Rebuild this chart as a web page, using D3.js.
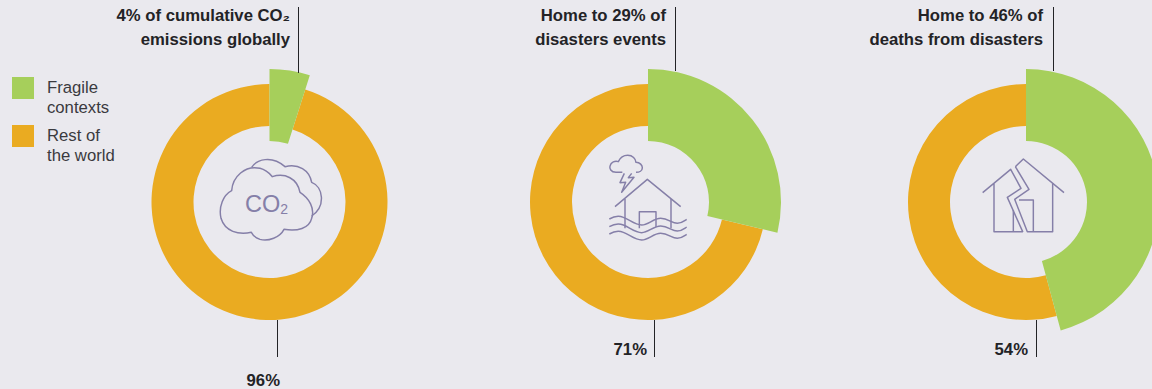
<!DOCTYPE html>
<html><head><meta charset="utf-8">
<script src="https://cdn.jsdelivr.net/npm/d3@7/dist/d3.min.js"></script>
<style>html,body{margin:0;padding:0;background:#EAE9EE;overflow:hidden}svg{display:block}text{font-family:"Liberation Sans",Arial,sans-serif}</style>
</head><body><svg id="c" width="1152" height="389"></svg>
<script>
const categories = ["Fragile contexts", "Rest of the world"];
const fragileDrawn = [4.9, 28.7, 45.8];
const restDrawn = [95.1, 71.3, 54.2];
const topLabels = [["4% of cumulative CO₂", "emissions globally"], ["Home to 29% of", "disasters events"], ["Home to 46% of", "deaths from disasters"]];
const bottomLabels = ["96%", "71%", "54%"];
const centers = [269.5, 648, 1026];
const topLeaderX = [298.5, 675.5, 1053.5];
const bottomLeaderX = [277.5, 654.5, 1036.5];
const colors = ["#A6CF5B", "#EAAB21"];
const ink = "#232326", iconInk = "#857FA8";

const svg = d3.select("#c");
const pie = d3.pie().sort(null).value(d => d);
const arcGreen = d3.arc().innerRadius(61).outerRadius(133);
const arcOrange = d3.arc().innerRadius(76).outerRadius(118);
const color = d3.scaleOrdinal(categories, colors);
const bottomEnd = [280, 647, 1028];

centers.forEach((cx, i) => {
  const g = svg.append("g").attr("transform", `translate(${cx},202)`);
  const slices = pie([fragileDrawn[i], restDrawn[i]]);
  g.append("path").attr("d", arcOrange(slices[1])).attr("fill", color(categories[1]));
  g.append("path").attr("d", arcGreen(slices[0])).attr("fill", color(categories[0]));
  svg.append("line").attr("x1", topLeaderX[i]).attr("x2", topLeaderX[i]).attr("y1", 7)
    .attr("y2", i === 0 ? 73 : 71).attr("stroke", ink).attr("stroke-width", 1);
  svg.append("line").attr("x1", bottomLeaderX[i]).attr("x2", bottomLeaderX[i]).attr("y1", 320).attr("y2", 357)
    .attr("stroke", ink).attr("stroke-width", 1);
  topLabels[i].forEach((t, k) => svg.append("text").attr("x", [290, 666, 1043][i]).attr("y", 21 + k * 24)
    .attr("text-anchor", "end").attr("font-size", 16.7).attr("font-weight", 700).attr("fill", ink).text(t));
  svg.append("text").attr("x", bottomEnd[i]).attr("y", i === 0 ? 386 : 355)
    .attr("text-anchor", "end").attr("font-size", 16.7).attr("font-weight", 700).attr("fill", ink)
    .text(bottomLabels[i]);
});

// legend
const legendLines = [["Fragile", "contexts"], ["Rest of", "the world"]];
categories.forEach((c, i) => {
  const y = 77 + i * 48;
  svg.append("rect").attr("x", 12).attr("y", y).attr("width", 22).attr("height", 22).attr("fill", color(c));
  legendLines[i].forEach((t, k) => svg.append("text").attr("x", 47).attr("y", y + 16 + k * 20)
    .attr("font-size", 16.7).attr("fill", "#3A3A3E").text(t));
});

// icons (decorative, drawn in zoomed 3x local units)
function icon(x, y, paths) {
  const g = svg.append("g").attr("transform", `translate(${x},${y}) scale(${1/3})`)
    .attr("fill", "none").attr("stroke", iconInk).attr("stroke-width", 4.4).attr("stroke-linejoin", "round");
  paths.forEach(p => g.append("path").attr("d", p));
  return g;
}
icon(210, 150, [
  "M65,122 C68,80 105,45 150,55 C170,60 180,72 187,80 C225,68 262,85 270,127 C298,145 315,175 305,205 C298,235 262,245 222,238 C210,262 175,275 150,268 C135,263 128,255 124,247 C85,255 45,245 33,205 C25,170 40,135 65,122 Z",
  "M125,52 C140,28 185,15 225,50 C265,40 298,60 305,97 C340,110 348,170 305,198"
]);
svg.append("text").attr("x", 245).attr("y", 212).attr("font-size", 23.5).attr("fill", iconInk).text("CO")
  .append("tspan").attr("font-size", 14).attr("dy", 2).text("2");

const wave = dy => `M58,${237+dy} C70,${230+dy} 85,${226+dy} 100,${232+dy} C120,${240+dy} 135,${255+dy} 155,${255+dy} C175,${255+dy} 190,${235+dy} 212,${235+dy} C235,${235+dy} 245,${250+dy} 262,${250+dy} C275,${250+dy} 282,${243+dy} 290,${238+dy}`;
icon(590, 140, [
  "M78,97 C62,97 58,85 60,78 C63,66 75,62 85,65 C92,50 105,46 113,46 C128,46 137,56 138,67 C150,67 157,76 157,83 C157,92 148,97 138,97 M78,97 L97,97",
  "M103,100 L90,128 L107,127 L95,157 L132,112 L115,113 L125,100",
  "M75,200 L172,118 L272,200",
  "M105,177 V265 M243,177 V265",
  "M148,265 V215 H198 V262",
  wave(0), wave(23), wave(45)
]);
icon(970, 145, [
  "M38,143 L122,73 L153,130 L112,157 L158,260 H72 V115",
  "M136,65 L160,42 L282,143",
  "M136,65 L177,133 L134,163 L172,260 H248 V115",
  "M130,195 V260",
  "M147,165 H190 V260"
]);
</script></body></html>
